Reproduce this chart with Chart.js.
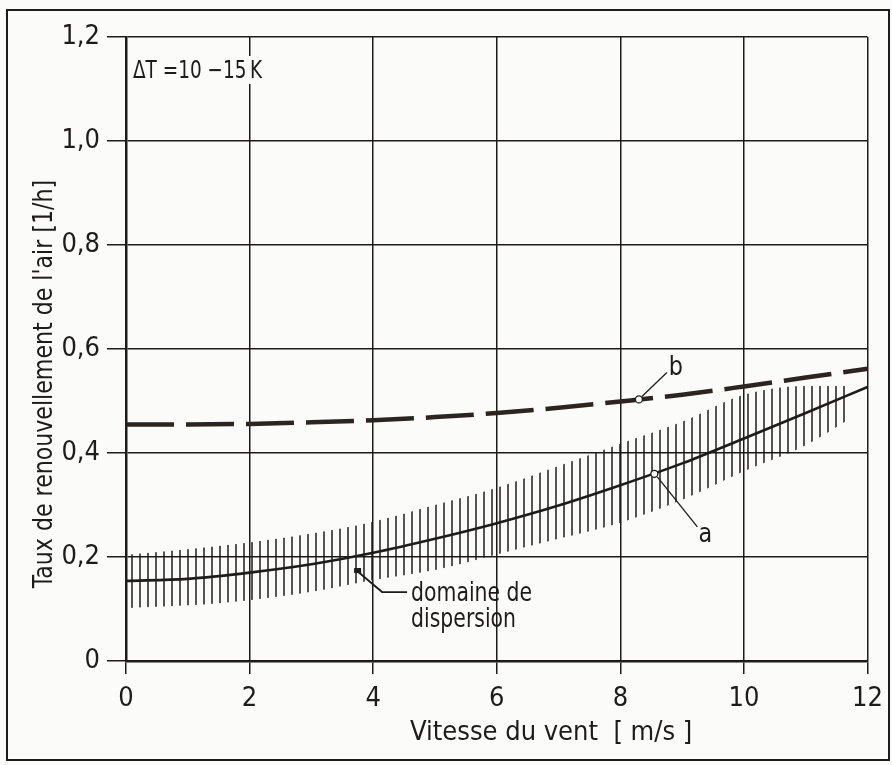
<!DOCTYPE html>
<html><head><meta charset="utf-8">
<script src="https://cdn.jsdelivr.net/npm/chart.js@4.4.1/dist/chart.umd.min.js"></script>
<style>html,body{margin:0;padding:0;background:#fbfbf9;}#wrap{width:892px;height:765px;position:relative}</style>
</head><body><div id="wrap"><canvas id="c" width="892" height="765"></canvas></div>
<script>
// ---- data ----
const windSpeed = [0,1,2,3,4,5,6,7,8,9,10,11,12];
const rateA = [0.154,0.158,0.170,0.186,0.208,0.235,0.265,0.299,0.338,0.380,0.428,0.477,0.527];
const rateB = [0.455,0.455,0.456,0.459,0.463,0.469,0.477,0.487,0.499,0.512,0.528,0.545,0.562];
const bandX = [0.05,1,2,3,4,5,6,7,8,9,10,11,11.7];
const bandUpper = [0.205,0.215,0.228,0.245,0.268,0.300,0.333,0.375,0.418,0.460,0.512,0.529,0.529];
const bandLower = [0.102,0.107,0.117,0.133,0.156,0.175,0.205,0.235,0.266,0.310,0.365,0.415,0.465];
const xTicks = [0,2,4,6,8,10,12];
const yTicks = [0,0.2,0.4,0.6,0.8,1.0,1.2];
const xTitle = 'Vitesse du vent  [ m/s ]';
const yTitle = "Taux de renouvellement de l'air [1/h]";
const noteText = 'ΔT =10 −15\u2009K';
const labelA = 'a', labelB = 'b';
const dispLabel = ['domaine de', 'dispersion'];
const anchorA = {x: 8.55, y: 0.360};
const anchorB = {x: 8.30, y: 0.503};
const anchorDisp = {x: 3.74, y: 0.173};

const FONT = '"Liberation Sans Narrow", "DejaVu Sans Condensed", "Roboto Condensed", sans-serif';
const INK = '#1e1c1a';
const BG = '#fbfbf9';

// hatch pattern (vertical lines)
const pc = document.createElement('canvas');
pc.width = 8; pc.height = 8;
const pctx = pc.getContext('2d');
pctx.strokeStyle = '#1e1c1a'; pctx.lineWidth = 1.5;
pctx.beginPath(); pctx.moveTo(4, 0); pctx.lineTo(4, 8); pctx.stroke();
const hatch = pctx.createPattern(pc, 'repeat');

const toXY = (xs, ys) => xs.map((x, i) => ({x, y: ys[i]}));

function txt(c, s, x, y, size, sx, align, rot) {
  c.save();
  c.translate(x, y);
  if (rot) c.rotate(rot);
  c.scale(sx, 1);
  c.font = size + 'px ' + FONT;
  c.textAlign = align || 'left';
  c.textBaseline = 'middle';
  c.fillStyle = INK;
  c.fillText(s, 0, 0);
  c.restore();
}

const decor = {
  id: 'decor',
  beforeDraw(chart) {
    const c = chart.ctx;
    c.save(); c.fillStyle = BG; c.fillRect(0, 0, chart.width, chart.height); c.restore();
  },
  afterDraw(chart) {
    const c = chart.ctx, xs = chart.scales.x, ys = chart.scales.y;
    c.save();
    // frame
    c.strokeStyle = INK; c.lineWidth = 2;
    c.strokeRect(7, 10, 882, 750);
    // note
    c.fillStyle = BG; c.fillRect(130, 56, 136, 28);
    txt(c, noteText, 133, 71, 25, 0.82, 'left');
    // axis titles
    txt(c, xTitle, 410, 733, 27, 1.0, 'left');
    txt(c, yTitle, 45, 384, 27, 0.91, 'center', -Math.PI / 2);
    // annotation b
    c.lineWidth = 1.3; c.strokeStyle = INK;
    let px = xs.getPixelForValue(anchorB.x), py = ys.getPixelForValue(anchorB.y);
    c.beginPath(); c.moveTo(px + 3, py - 3); c.lineTo(px + 28, py - 27); c.stroke();
    c.beginPath(); c.arc(px, py, 3.5, 0, Math.PI * 2); c.fillStyle = BG; c.fill(); c.stroke();
    txt(c, labelB, px + 37, py - 31, 27, 0.92, 'center');
    // annotation a
    px = xs.getPixelForValue(anchorA.x); py = ys.getPixelForValue(anchorA.y);
    c.beginPath(); c.moveTo(px + 3, py + 3); c.lineTo(px + 43, py + 53); c.stroke();
    c.beginPath(); c.arc(px, py, 3.5, 0, Math.PI * 2); c.fillStyle = BG; c.fill(); c.stroke();
    txt(c, labelA, px + 51, py + 61, 27, 0.92, 'center');
    // dispersion
    px = xs.getPixelForValue(anchorDisp.x); py = ys.getPixelForValue(anchorDisp.y);
    c.lineWidth = 1.8;
    c.beginPath(); c.moveTo(px, py); c.lineTo(px + 25, py + 21); c.lineTo(px + 50, py + 21); c.stroke();
    c.fillStyle = INK; c.fillRect(px - 3, py - 3, 7, 5);
    txt(c, dispLabel[0], px + 54, py + 23, 27, 0.84, 'left');
    txt(c, dispLabel[1], px + 54, py + 49, 27, 0.84, 'left');
    c.restore();
  }
};

const fmt = v => v === 0 ? '0' : v.toFixed(1).replace('.', ',');

new Chart(document.getElementById('c'), {
  type: 'scatter',
  data: {
    datasets: [
      {label: 'upper', data: toXY(bandX, bandUpper), showLine: true, borderWidth: 0, pointRadius: 0,
       fill: '+1', backgroundColor: hatch, cubicInterpolationMode: 'monotone'},
      {label: 'lower', data: toXY(bandX, bandLower), showLine: true, borderWidth: 0, pointRadius: 0,
       fill: false, cubicInterpolationMode: 'monotone'},
      {label: 'a', data: toXY(windSpeed, rateA), showLine: true, borderColor: INK, borderWidth: 2.6,
       pointRadius: 0, cubicInterpolationMode: 'monotone'},
      {label: 'b', data: toXY(windSpeed, rateB), showLine: true, borderColor: '#2c2420', borderWidth: 4.5,
       borderDash: [48, 12], borderCapStyle: 'butt', pointRadius: 0, cubicInterpolationMode: 'monotone'}
    ]
  },
  options: {
    responsive: false, animation: false, devicePixelRatio: 1,
    layout: {padding: {left: 0, right: 22, top: 37, bottom: 0}},
    plugins: {legend: {display: false}, tooltip: {enabled: false}},
    scales: {
      x: {
        type: 'linear', min: 0, max: 12,
        afterBuildTicks: s => { s.ticks = xTicks.map(v => ({value: v})); },
        afterFit: s => { s.height = 104; },
        grid: {color: INK, lineWidth: 1.5, tickLength: 13, tickColor: INK, tickWidth: 1.5},
        border: {color: INK, width: 2.5},
        ticks: {color: INK, font: {size: 27, family: FONT}, padding: 9, maxRotation: 0, callback: v => String(v)}
      },
      y: {
        type: 'linear', min: 0, max: 1.2,
        afterBuildTicks: s => { s.ticks = yTicks.map(v => ({value: v})); },
        afterFit: s => { s.width = 126; },
        grid: {color: INK, lineWidth: 1.5, tickLength: 19, tickColor: INK, tickWidth: 1.5},
        border: {color: INK, width: 2.5},
        ticks: {color: INK, font: {size: 27, family: FONT}, padding: 7, callback: v => fmt(v)}
      }
    }
  },
  plugins: [decor]
});
</script></body></html>
